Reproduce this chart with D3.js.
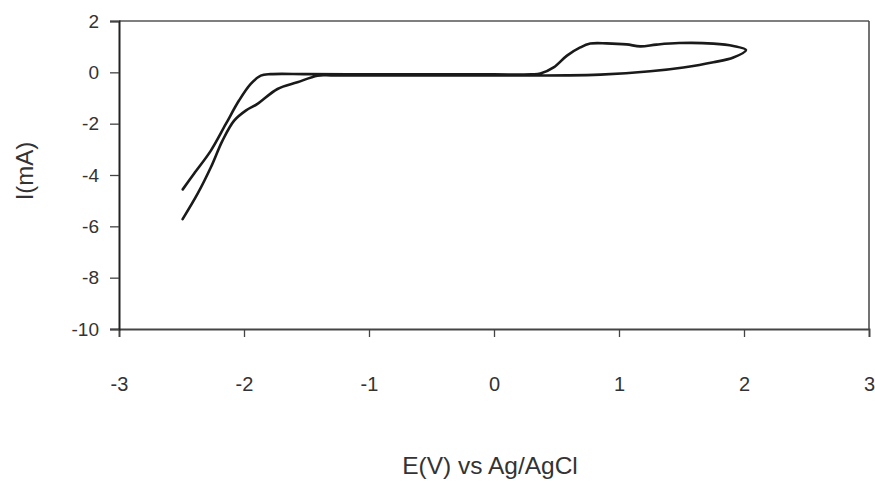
<!DOCTYPE html>
<html>
<head>
<meta charset="utf-8">
<script src="https://cdn.jsdelivr.net/npm/d3@7/dist/d3.min.js"></script>
<style>
  html, body { margin: 0; padding: 0; background: #fff; }
  svg { display: block; font-family: "Liberation Sans", Arial, sans-serif; }
</style>
</head>
<body>
<svg id="chart" width="875" height="481"></svg>
<script>
// Cyclic voltammogram, E (V vs Ag/AgCl) and I (mA), in scan order
const potentialE = [
  -2.49, -2.40, -2.265, -2.145, -2.04, -1.946, -1.866, -1.786, -1.5, -1.0, -0.5, 0.0, 0.30,
  0.371, 0.477, 0.584, 0.690, 0.770, 0.90, 1.06, 1.17, 1.30, 1.48, 1.755, 1.915, 2.016,
  1.915, 1.755, 1.515, 1.249, 0.850, 0.584, 0.05, -0.5, -1.0, -1.30,
  -1.413, -1.573, -1.732, -1.892, -1.986, -2.079, -2.172, -2.265, -2.371, -2.491
];
const currentI = [
  -4.56, -3.95, -3.05, -2.01, -1.10, -0.45, -0.13, -0.07, -0.07, -0.08, -0.08, -0.08, -0.08,
  -0.05, 0.19, 0.65, 0.97, 1.12, 1.13, 1.09, 1.01, 1.08, 1.14, 1.12, 1.03, 0.87,
  0.58, 0.39, 0.19, 0.04, -0.09, -0.12, -0.12, -0.12, -0.12, -0.12,
  -0.13, -0.39, -0.65, -1.23, -1.49, -1.88, -2.66, -3.70, -4.73, -5.72
];
const xTicks = [-3, -2, -1, 0, 1, 2, 3];
const yTicks = [2, 0, -2, -4, -6, -8, -10];
const xTitle = "E(V) vs Ag/AgCl";
const yTitle = "I(mA)";

(function () {
const svg = d3.select("#chart");
const mL = 119, mR = 869, mT = 21, mB = 329;
const fmt = d => String(d);

const x = d3.scaleLinear().domain([-3, 3]).range([mL, mR]);
const y = d3.scaleLinear().domain([-10, 2]).range([mB, mT]);

// plot frame (top and right borders)
svg.append("line").attr("x1", mL).attr("x2", mR).attr("y1", mT).attr("y2", mT)
  .attr("stroke", "#555").attr("stroke-width", 1.6);
svg.append("line").attr("x1", mR).attr("x2", mR).attr("y1", mT).attr("y2", mB)
  .attr("stroke", "#444").attr("stroke-width", 1.5);

// x axis
const xAxis = svg.append("g").attr("transform", `translate(0,${mB})`)
  .call(d3.axisBottom(x).tickValues(xTicks).tickSize(8).tickFormat(fmt));
xAxis.select(".domain").attr("stroke", "#444").attr("stroke-width", 1.8);
xAxis.selectAll(".tick line").attr("stroke", "#444").attr("stroke-width", 1.3);
xAxis.selectAll(".tick text").attr("font-size", 20).attr("fill", "#333")
  .attr("font-family", "Liberation Sans, Arial, sans-serif").attr("y", 48);

// y axis
const yAxis = svg.append("g").attr("transform", `translate(${mL},0)`)
  .call(d3.axisLeft(y).tickValues(yTicks).tickSize(9).tickFormat(fmt));
yAxis.select(".domain").attr("stroke", "#222").attr("stroke-width", 2);
yAxis.selectAll(".tick line").attr("stroke", "#444").attr("stroke-width", 1.3);
yAxis.selectAll(".tick text").attr("font-size", 19).attr("fill", "#333")
  .attr("font-family", "Liberation Sans, Arial, sans-serif").attr("x", -20);

// curve
const pts = potentialE.map((e, i) => [e, currentI[i]]);
const line = d3.line().x(d => x(d[0])).y(d => y(d[1])).curve(d3.curveCatmullRom.alpha(0.5));
svg.append("path").datum(pts).attr("d", line)
  .attr("fill", "none").attr("stroke", "#1a1a1a").attr("stroke-width", 2.6)
  .attr("stroke-linejoin", "round").attr("stroke-linecap", "round");

// titles
svg.append("text").attr("x", 490).attr("y", 474).attr("text-anchor", "middle")
  .attr("font-size", 24.5).attr("fill", "#333").text(xTitle);
svg.append("text").attr("transform", "translate(33,171) rotate(-90)").attr("text-anchor", "middle")
  .attr("font-size", 24).attr("fill", "#333").text(yTitle);
})();
</script>
</body>
</html>
